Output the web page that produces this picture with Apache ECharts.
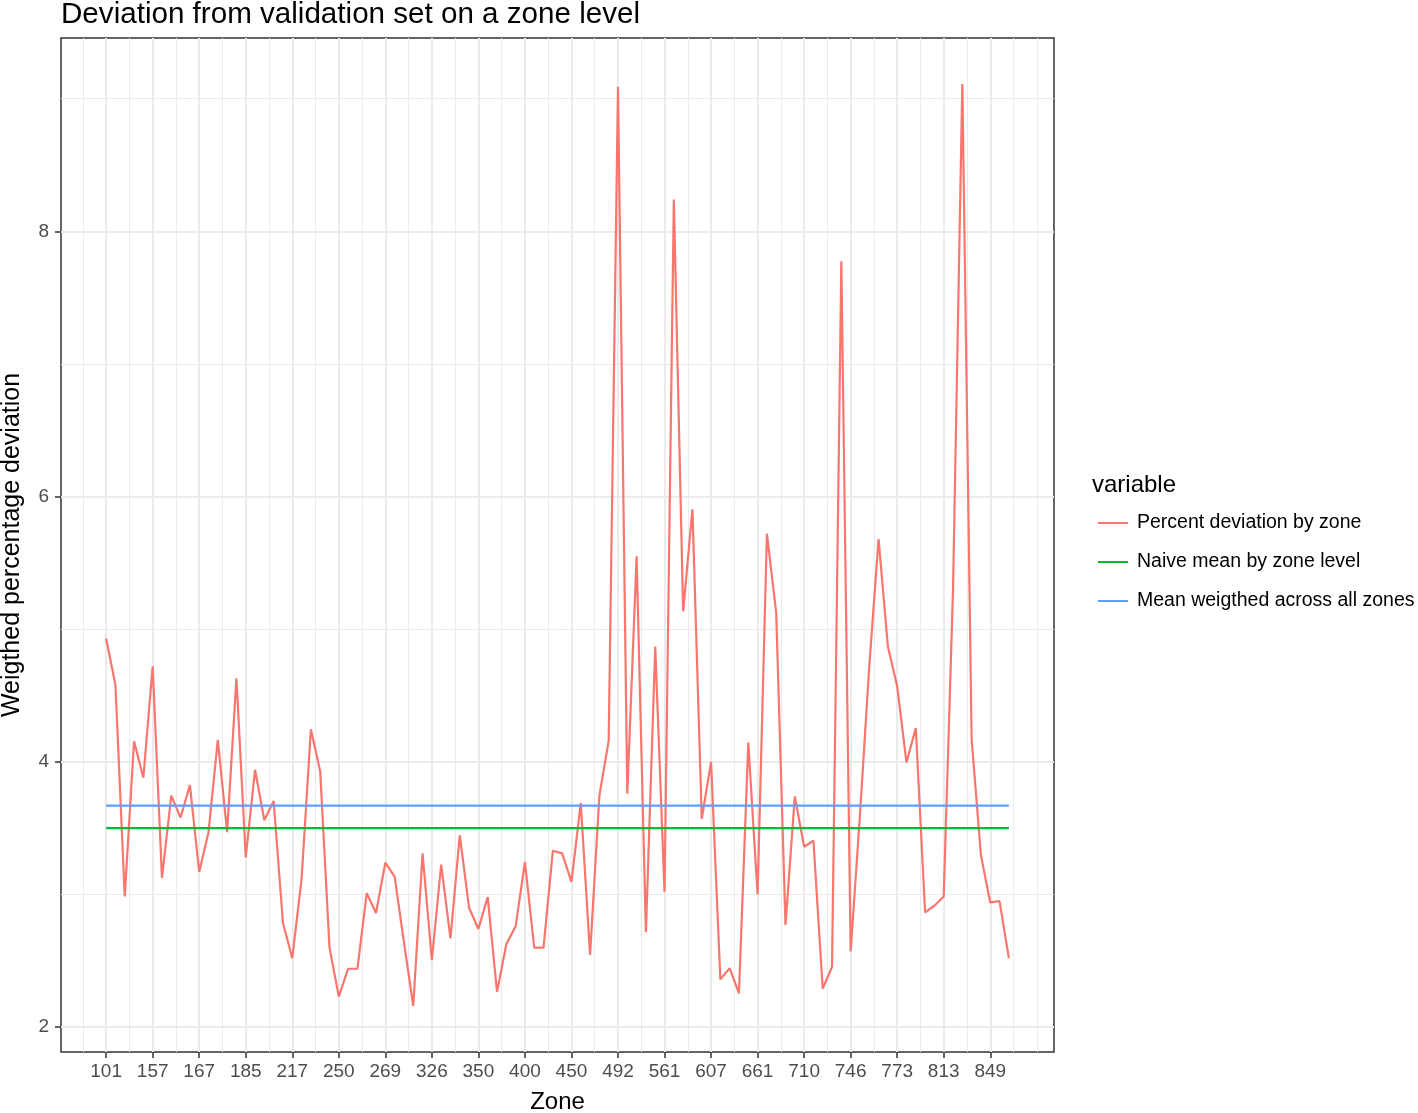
<!DOCTYPE html>
<html>
<head>
<meta charset="utf-8">
<title>Deviation from validation set on a zone level</title>
<script src="https://cdn.jsdelivr.net/npm/echarts@6/dist/echarts.min.js"></script>
<style>
    html, body { margin: 0; padding: 0; background: #ffffff; }
    #chart { width: 1418px; height: 1113px; }
</style>
</head>
<body>
<div id="chart"></div>
<script>
// zone names shown on the x axis (every 5th zone)
var zoneLabels = ['101', '157', '167', '185', '217', '250', '269', '326', '350', '400',
                  '450', '492', '561', '607', '661', '710', '746', '773', '813', '849'];
var labelStep = 5;

// weighted percentage deviation per zone, in zone order
var deviation = [
    4.93, 4.58, 2.985, 4.155, 3.88, 4.72, 3.125, 3.745, 3.58, 3.825,
    3.17, 3.47, 4.165, 3.47, 4.63, 3.28, 3.94, 3.56, 3.705, 2.785,
    2.52, 3.115, 4.245, 3.93, 2.60, 2.23, 2.44, 2.44, 3.01, 2.86,
    3.24, 3.135, 2.64, 2.16, 3.31, 2.505, 3.225, 2.67, 3.445, 2.90,
    2.74, 2.98, 2.265, 2.625, 2.76, 3.245, 2.60, 2.60, 3.33, 3.31,
    3.095, 3.69, 2.545, 3.745, 4.16, 9.09, 3.76, 5.55, 2.715, 4.87,
    3.02, 8.24, 5.135, 5.905, 3.57, 4.00, 2.36, 2.445, 2.255, 4.145,
    3.00, 5.72, 5.125, 2.77, 3.74, 3.36, 3.405, 2.29, 2.455, 7.775,
    2.57, 3.60, 4.72, 5.68, 4.87, 4.57, 3.995, 4.255, 2.865, 2.915,
    2.985, 5.3, 9.11, 4.17, 3.295, 2.94, 2.95, 2.52
];

var naiveMean = 3.50;     // naive mean by zone level
var weightedMean = 3.67;  // mean weighted across all zones

var yMajor = [2, 4, 6, 8];
var yMinor = [3, 5, 7, 9];

var chartDom = document.getElementById('chart');
var myChart = echarts.init(chartDom);

var font = 'Liberation Sans, Arial, Helvetica, sans-serif';
var gridColor = '#ebebeb';

// ggplot-like 5% expansion of the ranges
var lastIdx = deviation.length - 1;
var xPad = lastIdx * 0.05;
var yLo = Math.min.apply(null, deviation);
var yHi = Math.max.apply(null, deviation);
var yPad = (yHi - yLo) * 0.05;

// major ticks at every labelled zone, minor grid lines half way between
var xMajor = [];
for (var i = 0; i < zoneLabels.length; i++) xMajor.push(i * labelStep);
var xMinor = [];
for (var m = -labelStep / 2; m <= lastIdx + xPad; m += labelStep) xMinor.push(m);
xMinor.push(zoneLabels.length * labelStep);

var lineData = deviation.map(function (v, idx) { return [idx, v]; });
var naiveData = [[0, naiveMean], [lastIdx, naiveMean]];
var weightedData = [[0, weightedMean], [lastIdx, weightedMean]];

var option = {
    backgroundColor: '#ffffff',
    animation: false,
    textStyle: { fontFamily: font },
    title: [
        {
            text: 'Deviation from validation set on a zone level',
            left: 61,
            top: 0,
            padding: 0,
            textStyle: { fontFamily: font, fontSize: 29.6, fontWeight: 'normal', color: '#000000' }
        },
        {
            text: 'variable',
            left: 1092,
            top: 473,
            padding: 0,
            textStyle: { fontFamily: font, fontSize: 24, fontWeight: 'normal', color: '#000000' }
        }
    ],
    legend: {
        orient: 'vertical',
        left: 1097,
        top: 513,
        padding: 0,
        itemWidth: 30,
        itemHeight: 20,
        itemGap: 19,
        itemStyle: { opacity: 0 },
        textStyle: { fontFamily: font, fontSize: 19.5, color: '#000000', padding: [0, 0, 0, 4] },
        data: ['Percent deviation by zone', 'Naive mean by zone level', 'Mean weigthed across all zones']
    },
    grid: {
        left: 61,
        right: 364,
        top: 38,
        bottom: 61,
        show: true,
        backgroundColor: '#ffffff',
        borderColor: '#333333',
        borderWidth: 1.5,
        containLabel: false,
        outerBoundsMode: 'none'
    },
    xAxis: [
        {
            type: 'value',
            min: -xPad,
            max: lastIdx + xPad,
            name: 'Zone',
            nameLocation: 'middle',
            nameGap: 38,
            nameTextStyle: { fontFamily: font, fontSize: 24, color: '#000000' },
            axisLine: { show: false, onZero: false },
            axisTick: { show: true, length: 6, customValues: xMajor, lineStyle: { color: '#333333', width: 1.5 } },
            axisLabel: {
                customValues: xMajor,
                margin: 10,
                fontFamily: font,
                fontSize: 19,
                color: '#4d4d4d',
                formatter: function (v) { return zoneLabels[Math.round(v / labelStep)]; }
            },
            splitLine: { show: true, lineStyle: { color: gridColor, width: 2 } }
        },
        {
            type: 'value',
            min: -xPad,
            max: lastIdx + xPad,
            position: 'bottom',
            axisLine: { show: false, onZero: false },
            axisTick: { show: false, customValues: xMinor },
            axisLabel: { show: false },
            splitLine: { show: true, lineStyle: { color: gridColor, width: 1 } }
        }
    ],
    yAxis: [
        {
            type: 'value',
            min: yLo - yPad,
            max: yHi + yPad,
            name: 'Weigthed percentage deviation',
            nameLocation: 'middle',
            nameGap: 36,
            nameTextStyle: { fontFamily: font, fontSize: 25, color: '#000000' },
            axisLine: { show: false, onZero: false },
            axisTick: { show: true, length: 6, customValues: yMajor, lineStyle: { color: '#333333', width: 1.5 } },
            axisLabel: { customValues: yMajor, margin: 12, fontFamily: font, fontSize: 19, color: '#4d4d4d' },
            splitLine: { show: true, lineStyle: { color: gridColor, width: 2 } }
        },
        {
            type: 'value',
            min: yLo - yPad,
            max: yHi + yPad,
            position: 'left',
            axisLine: { show: false, onZero: false },
            axisTick: { show: false, customValues: yMinor },
            axisLabel: { show: false },
            splitLine: { show: true, lineStyle: { color: gridColor, width: 1 } }
        }
    ],
    series: [
        {
            name: 'Percent deviation by zone',
            type: 'line',
            data: lineData,
            symbol: 'none',
            color: '#F8766D',
            lineStyle: { color: '#F8766D', width: 2.2 }
        },
        {
            name: 'Naive mean by zone level',
            type: 'line',
            data: naiveData,
            symbol: 'none',
            color: '#00BA38',
            lineStyle: { color: '#00BA38', width: 2.2 }
        },
        {
            name: 'Mean weigthed across all zones',
            type: 'line',
            data: weightedData,
            symbol: 'none',
            color: '#619CFF',
            lineStyle: { color: '#619CFF', width: 2.2 }
        }
    ]
};

option && myChart.setOption(option);
</script>
</body>
</html>
